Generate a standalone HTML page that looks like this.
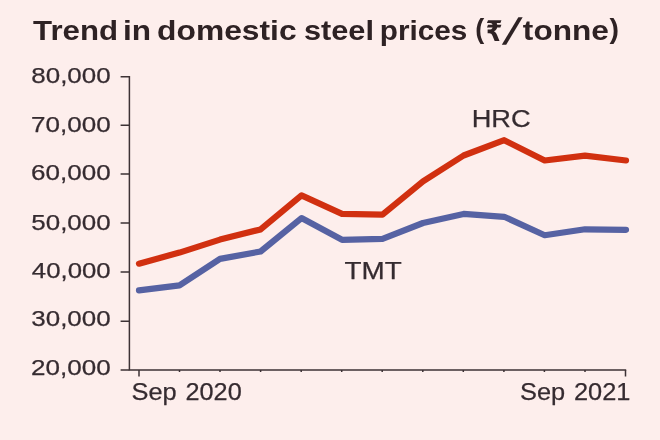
<!DOCTYPE html>
<html lang="en">
<head>
<meta charset="utf-8">
<title>Trend in domestic steel prices</title>
<style>
html,body{margin:0;padding:0;background:#fdeeec;}
body{width:660px;height:440px;overflow:hidden;}
svg{display:block;}
text{font-family:"Liberation Sans","DejaVu Sans",sans-serif;fill:#352b30;}
.title{font-weight:bold;font-size:28.5px;fill:#2e2224;}
.par{font-size:27px;}
.lbl{font-size:22.6px;stroke:#352b30;stroke-width:0.25px;stroke-linejoin:round;}
.big{font-size:24.5px;}
.ax{stroke:#3d3235;stroke-width:1.5;fill:none;}
</style>
</head>
<body>
<svg width="660" height="440" viewBox="0 0 660 440">
<rect x="0" y="0" width="660" height="440" fill="#fdeeec"/>
<g id="texts">
<text id="t1" class="title" x="33.14" y="40.3" textLength="84.90" lengthAdjust="spacingAndGlyphs">Trend</text>
<text id="t2" class="title" x="122.95" y="40.3" textLength="28.05" lengthAdjust="spacingAndGlyphs">in</text>
<text id="t3" class="title" x="157.13" y="40.3" textLength="139.48" lengthAdjust="spacingAndGlyphs">domestic</text>
<text id="t4" class="title" x="303.96" y="40.3" textLength="69.99" lengthAdjust="spacingAndGlyphs">steel</text>
<text id="t5" class="title" x="379.78" y="40.3" textLength="87.51" lengthAdjust="spacingAndGlyphs">prices</text>
<text id="t6a" class="title par" x="475.37" y="38.1" textLength="9.00" lengthAdjust="spacingAndGlyphs">(</text>
<text id="t6b" class="title" x="485.85" y="40.8" textLength="16.85" lengthAdjust="spacingAndGlyphs">₹</text>
<text id="t6c" class="title" transform="matrix(1.3,0,-0.532,1.29,501.65,43.6)" x="0" y="0">/</text>
<text id="t6d" class="title" x="522.89" y="40.3" textLength="85.98" lengthAdjust="spacingAndGlyphs">tonne</text>
<text id="t6e" class="title par" x="609.53" y="38.1" textLength="9.50" lengthAdjust="spacingAndGlyphs">)</text>
<text id="y8" class="lbl" x="31.33" y="83.1" textLength="79.29" lengthAdjust="spacingAndGlyphs">80,000</text>
<text id="y7" class="lbl" x="31.07" y="131.9" textLength="79.55" lengthAdjust="spacingAndGlyphs">70,000</text>
<text id="y6" class="lbl" x="31.07" y="180.2" textLength="79.55" lengthAdjust="spacingAndGlyphs">60,000</text>
<text id="y5" class="lbl" x="31.33" y="229.7" textLength="79.29" lengthAdjust="spacingAndGlyphs">50,000</text>
<text id="y4" class="lbl" x="31.84" y="278.4" textLength="78.77" lengthAdjust="spacingAndGlyphs">40,000</text>
<text id="y3" class="lbl" x="31.33" y="326.4" textLength="79.29" lengthAdjust="spacingAndGlyphs">30,000</text>
<text id="y2" class="lbl" x="31.07" y="375.1" textLength="79.55" lengthAdjust="spacingAndGlyphs">20,000</text>
<text id="x0a" class="lbl big" x="131.50" y="399.6" textLength="45.19" lengthAdjust="spacingAndGlyphs">Sep</text>
<text id="x0b" class="lbl big" x="185.51" y="399.6" textLength="56.22" lengthAdjust="spacingAndGlyphs">2020</text>
<text id="x1a" class="lbl big" x="520.00" y="399.6" textLength="45.13" lengthAdjust="spacingAndGlyphs">Sep</text>
<text id="x1b" class="lbl big" x="574.01" y="399.6" textLength="56.49" lengthAdjust="spacingAndGlyphs">2021</text>
<text id="hrc" class="lbl big" x="471.70" y="126.7" textLength="58.94" lengthAdjust="spacingAndGlyphs">HRC</text>
<text id="tmt" class="lbl big" x="344.44" y="278.5" textLength="57.21" lengthAdjust="spacingAndGlyphs">TMT</text>
</g>
<g class="ax">
<path d="M120.6 76.8H129.4V369.9H626.2"/>
<path d="M120.6 125.2H129.4M120.6 173.9H129.4M120.6 223H129.4M120.6 271.9H129.4M120.6 321.3H129.4M120.6 369.9H129.4"/>
<path d="M139 370V376.5M625.5 370V376.5"/>
<path d="M179.5 370V372M220 370V372M260.6 370V372M301.2 370V372M341.7 370V372M382.2 370V372M422.8 370V372M463.3 370V372M503.9 370V372M544.4 370V372M585 370V372"/>
</g>
<polyline fill="none" stroke="#5662a3" stroke-width="6.2" stroke-linecap="round" stroke-linejoin="round"
 points="139,290.4 179.5,285.3 220,258.9 260.6,251.5 301.5,218.1 342,239.8 382.5,238.8 423,223 463.6,213.9 504.2,216.8 544.7,235.2 585,229.3 626,229.8"/>
<polyline fill="none" stroke="#d13010" stroke-width="6.2" stroke-linecap="round" stroke-linejoin="round"
 points="139,263.7 179.5,252.6 220,239.6 260.6,229.4 301.5,195.4 342,213.9 382.5,214.6 423,181.3 463.6,155.5 504.2,140.2 544.7,160.5 585,155.7 626,160.5"/>
</svg>
</body>
</html>
